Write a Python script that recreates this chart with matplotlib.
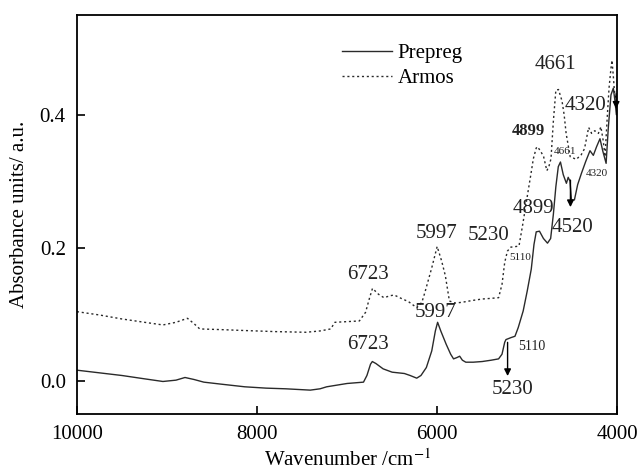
import matplotlib
matplotlib.use("Agg")
import matplotlib.pyplot as plt

plt.rcParams['font.family'] = ['Liberation Serif', 'DejaVu Serif']
plt.rcParams['mathtext.fontset'] = 'stix'

# Prepreg spectrum (solid)
prepreg_x = [10000, 9750, 9500, 9250, 9045, 8900, 8800, 8700, 8591, 8400,
             8136, 7900, 7682, 7409, 7300, 7227, 7000, 6818, 6780, 6740,
             6720, 6680, 6600, 6500, 6364, 6300, 6227, 6180, 6120, 6060,
             6020, 5995, 5960, 5900, 5850, 5818, 5780, 5750, 5720, 5682,
             5600, 5500, 5400, 5318, 5280, 5250, 5236, 5180, 5136, 5100,
             5045, 5000, 4955, 4925, 4900, 4864, 4820, 4775, 4740, 4710,
             4682, 4655, 4631, 4600, 4565, 4545, 4525, 4509, 4476, 4440,
             4398, 4350, 4303, 4266, 4230, 4192, 4160, 4124, 4100, 4070,
             4044, 4025, 4010, 4000]
prepreg_y = [0.016, 0.012, 0.008, 0.003, -0.001, 0.001, 0.005, 0.002, -0.002, -0.005,
             -0.009, -0.011, -0.012, -0.014, -0.012, -0.009, -0.004, -0.002, 0.008, 0.025,
             0.029, 0.026, 0.018, 0.013, 0.011, 0.008, 0.004, 0.008, 0.020, 0.045,
             0.075, 0.088, 0.075, 0.055, 0.040, 0.033, 0.035, 0.037, 0.031, 0.028,
             0.028, 0.029, 0.031, 0.033, 0.040, 0.058, 0.062, 0.065, 0.067, 0.080,
             0.105, 0.135, 0.168, 0.205, 0.224, 0.225, 0.214, 0.207, 0.214, 0.250,
             0.292, 0.322, 0.329, 0.310, 0.297, 0.306, 0.300, 0.272, 0.272, 0.295,
             0.312, 0.330, 0.346, 0.339, 0.352, 0.364, 0.345, 0.327, 0.380, 0.430,
             0.440, 0.420, 0.400, 0.410]

# Armos spectrum (dotted)
armos_x = [10000, 9750, 9500, 9250, 9045, 8900, 8773, 8700, 8636, 8400,
           8136, 7800, 7455, 7300, 7182, 7136, 7000, 6864, 6795, 6750,
           6718, 6650, 6591, 6520, 6477, 6400, 6318, 6227, 6170, 6136,
           6060, 6000, 5950, 5909, 5864, 5800, 5727, 5600, 5500, 5400,
           5318, 5280, 5250, 5220, 5182, 5120, 5091, 5050, 5000, 4960,
           4932, 4900, 4886, 4850, 4818, 4782, 4760, 4736, 4710, 4682,
           4653, 4614, 4590, 4568, 4523, 4455, 4400, 4364, 4318, 4285,
           4250, 4210, 4182, 4155, 4136, 4110, 4091, 4070, 4059, 4045,
           4032, 4000]
armos_y = [0.104, 0.099, 0.093, 0.088, 0.084, 0.088, 0.094, 0.086, 0.078, 0.077,
           0.0756, 0.074, 0.073, 0.075, 0.078, 0.088, 0.089, 0.090, 0.103, 0.125,
           0.139, 0.130, 0.125, 0.128, 0.129, 0.124, 0.119, 0.110, 0.118, 0.133,
           0.170, 0.202, 0.180, 0.158, 0.120, 0.117, 0.118, 0.121, 0.123, 0.124,
           0.125, 0.145, 0.178, 0.195, 0.201, 0.202, 0.203, 0.235, 0.277, 0.310,
           0.334, 0.350, 0.352, 0.345, 0.337, 0.316, 0.322, 0.334, 0.390, 0.437,
           0.438, 0.421, 0.400, 0.372, 0.337, 0.333, 0.340, 0.349, 0.381, 0.372,
           0.376, 0.372, 0.382, 0.360, 0.337, 0.400, 0.441, 0.470, 0.482, 0.460,
           0.436, 0.410]

# peak labels: (text, x, y, fontsize, weight)
labels = [
    ("6723", 6764, 0.160, 15, "normal"),
    ("5997", 6005, 0.222, 15, "normal"),
    ("5230", 5432, 0.218, 15, "normal"),
    ("4899", 4989, 0.375, 12, "bold"),
    ("4661", 4682, 0.476, 15, "normal"),
    ("4320", 4352, 0.414, 15, "normal"),
    ("4661", 4585, 0.345, 8, "normal"),
    ("4320", 4232, 0.312, 8, "normal"),
    ("5110", 5082, 0.186, 8, "normal"),
    ("4899", 4935, 0.259, 15, "normal"),
    ("4520", 4495, 0.231, 15, "normal"),
    ("5997", 6014, 0.103, 15, "normal"),
    ("6723", 6764, 0.054, 15, "normal"),
    ("5110", 4946, 0.051, 10, "normal"),
    ("5230", 5160, -0.013, 15, "normal"),
]

# arrows: (x, y_start, y_end)
arrows = [(5218, 0.062, 0.003), (4520, 0.306, 0.257), (4013, 0.436, 0.405)]

fig = plt.figure(figsize=(6.41, 4.70), dpi=100)
ax = fig.add_axes([0.120, 0.119, 0.843, 0.849])

ax.plot(prepreg_x, prepreg_y, color='#2a2a2a', lw=1.0, label='Prepreg')
ax.plot(armos_x, armos_y, color='#2a2a2a', lw=1.0, ls=(0, (1.5, 2)), label='Armos')

for txt, x, y, fs, w in labels:
    ax.text(x, y, txt, fontsize=fs, fontweight=w, ha='center', va='center', color='#222222')

for x, y0, y1 in arrows:
    ax.annotate("", xy=(x, y1), xytext=(x, y0),
                arrowprops=dict(arrowstyle='-|>', color='black', lw=1.0, mutation_scale=10))

ax.set_xlim(10000, 4000)
ax.set_ylim(-0.05, 0.55)
ax.set_xticks([10000, 8000, 6000, 4000])
ax.set_yticks([0.0, 0.2, 0.4])
ax.set_yticklabels(["0.0", "0.2", "0.4"])
ax.tick_params(direction='in', length=6, width=1.2, labelsize=15, top=False, right=False, pad=8)
for sp in ax.spines.values():
    sp.set_linewidth(1.3)

ax.set_xlabel("Wavenumber /cm$^{-1}$", fontsize=15, labelpad=4)
ax.set_ylabel("Absorbance units/ a.u.", fontsize=15, labelpad=8)

ax.legend(loc='upper left', bbox_to_anchor=(0.455, 0.975), frameon=False, fontsize=15,
          handlelength=2.4, handletextpad=0.3, labelspacing=0.25)

fig.savefig("out.png", dpi=100)
